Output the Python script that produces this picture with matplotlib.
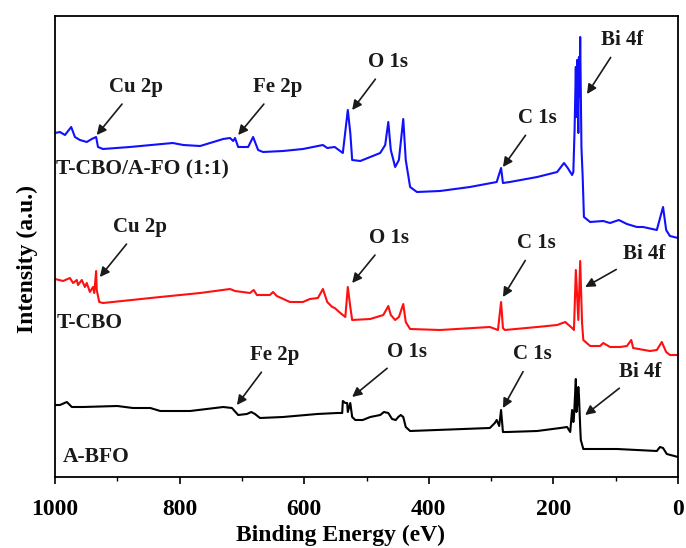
import matplotlib
matplotlib.use("Agg")
import matplotlib.pyplot as plt
from matplotlib.ticker import MultipleLocator

plt.rcParams['font.family'] = ['Liberation Serif', 'DejaVu Serif']
plt.rcParams['font.weight'] = 'bold'

# T-CBO/A-FO (1:1) survey spectrum (binding energy in eV, intensity in a.u.)
be_mix = [1000, 992, 984, 974, 968, 960, 949, 941, 934, 931, 923, 880, 811, 794, 767,
          730, 719, 714, 711, 706, 690, 682, 674, 666, 634, 602, 570, 563, 551, 538,
          530, 526, 523, 510, 494, 478, 470, 465, 461, 454, 448, 441, 437, 430, 419,
          382, 334, 291, 284, 281, 270, 226, 194, 183, 177, 170, 168, 166, 164, 163,
          162, 160, 159, 158, 157, 155, 153, 151, 141, 120, 109, 95, 82, 66, 56, 34,
          24, 19, 13, 0]
int_mix = [344, 345, 342, 350, 340, 337, 335, 338, 340, 330, 328, 330, 334, 332, 331,
           338, 339, 336, 339, 330, 330, 340, 327, 325, 326, 328, 332, 329, 330, 324,
           367, 344, 317, 316, 320, 324, 332, 355, 327, 310, 317, 358, 317, 290, 285,
           286, 290, 295, 309, 294, 295, 300, 305, 314, 309, 302, 305, 347, 410, 360,
           417, 344, 420, 380, 440, 330, 300, 260, 255, 256, 254, 257, 253, 250, 250, 247,
           270, 247, 241, 239]

# T-CBO survey spectrum
be_cbo = [1000, 987, 976, 971, 965, 963, 957, 952, 949, 944, 939, 937, 934, 933, 929,
          923, 831, 767, 719, 711, 687, 681, 676, 655, 650, 644, 623, 602, 591, 578,
          570, 563, 555, 551, 542, 534, 530, 526, 523, 494, 473, 465, 461, 454, 448,
          441, 437, 430, 382, 302, 289, 284, 281, 278, 226, 194, 181, 170, 167, 164,
          160, 157, 154, 152, 141, 125, 120, 109, 93, 82, 75, 72, 45, 34, 26, 19, 13, 0]
int_cbo = [198, 196, 199, 194, 197, 192, 197, 190, 194, 185, 190, 184, 206, 187, 175,
           174, 180, 184, 188, 186, 184, 187, 182, 182, 185, 181, 175, 175, 178, 179,
           188, 175, 170, 169, 164, 160, 190, 170, 157, 158, 162, 171, 162, 157, 160,
           173, 155, 148, 147, 150, 147, 175, 149, 147, 150, 152, 155, 149, 147, 207,
           157, 216, 154, 137, 131, 131, 134, 130, 130, 131, 137, 129, 126, 127, 135, 125, 122, 122]

# A-BFO survey spectrum
be_bfo = [1000, 992, 981, 973, 955, 900, 875, 847, 831, 783, 730, 716, 706, 692, 685,
          679, 671, 634, 579, 547, 539, 538, 534, 531, 530, 526, 523, 518, 506, 494,
          478, 472, 465, 459, 453, 449, 445, 441, 437, 430, 302, 294, 291, 287, 284,
          281, 274, 226, 189, 178, 173, 170, 168, 167, 165, 164, 163, 162, 160, 159,
          157, 156, 152, 98, 34, 29, 24, 18, 0]
int_bfo = [72, 72, 75, 70, 70, 71, 69, 69, 66, 66, 70, 69, 62, 63, 65,
           63, 59, 60, 63, 64, 64, 76, 74, 74, 65, 74, 60, 57, 57, 60,
           62, 65, 64, 58, 57, 60, 62, 60, 50, 46, 49, 54, 57, 51, 67,
           45, 45, 46, 49, 50, 45, 67, 55, 60, 85, 98, 65, 70, 90, 82,
           50, 37, 28, 28, 26, 30, 29, 23, 20]

# sample names: (text, BE, intensity)
sample_names = ['T-CBO/A-FO (1:1)', 'T-CBO', 'A-BFO']
sample_be = [998, 998, 987]
sample_int = [308, 154, 20]

# peak labels: text, text position, arrow head position
peak_names = ['Cu 2p', 'Fe 2p', 'O 1s', 'C 1s', 'Bi 4f',
              'Cu 2p', 'O 1s', 'C 1s', 'Bi 4f',
              'Fe 2p', 'O 1s', 'C 1s', 'Bi 4f']
peak_text_be = [870, 642, 465, 225, 90, 863, 464, 228, 55, 648, 435, 233, 61]
peak_text_int = [390, 390, 415, 359, 437, 250, 239, 234, 223, 122, 125, 123, 105]
peak_head_be = [933, 706, 523, 281, 146, 928, 523, 281, 149, 708, 523, 281, 149]
peak_head_int = [342, 342, 367, 310, 383, 200, 194, 180, 190, 72, 80, 69, 62]

fig = plt.figure(figsize=(6.86, 5.48), dpi=100)
ax = fig.add_axes([55 / 686, 71 / 548, 623 / 686, 461 / 548])

ax.plot(be_mix, int_mix, color='#1010ff', lw=1.5)
ax.plot(be_cbo, int_cbo, color='#ff1010', lw=1.5)
ax.plot(be_bfo, int_bfo, color='black', lw=1.5)

for name, x, y in zip(sample_names, sample_be, sample_int):
    ax.text(x, y, name, fontsize=15.5, fontweight='bold', ha='left', va='center', color='#1a1a1a')

for name, tx, ty, hx, hy in zip(peak_names, peak_text_be, peak_text_int, peak_head_be, peak_head_int):
    ax.annotate(name, xy=(hx, hy), xytext=(tx, ty), fontsize=15, fontweight='bold',
                ha='center', va='center', color='#1a1a1a',
                arrowprops=dict(arrowstyle='-|>', color='#1a1a1a', lw=1.2,
                                mutation_scale=14, shrinkA=4, shrinkB=0))

ax.set_xlim(1000, 0)
ax.set_ylim(0, 461)
ax.set_yticks([])
ax.xaxis.set_major_locator(MultipleLocator(200))
ax.xaxis.set_minor_locator(MultipleLocator(100))
ax.tick_params(axis='x', which='major', direction='out', length=5, width=1.2,
               labelsize=17, pad=11)
ax.tick_params(axis='x', which='minor', direction='out', length=3, width=1.0)
for lab in ax.get_xticklabels():
    lab.set_fontweight('bold')
for sp in ax.spines.values():
    sp.set_linewidth(1.3)

ax.set_xlabel('Binding Energy (eV)', fontsize=17, fontweight='bold', va='center')
ax.xaxis.set_label_coords(0.459, -0.127)
ax.set_ylabel('Intensity (a.u.)', fontsize=17, fontweight='bold', va='center')
ax.yaxis.set_label_coords(-0.045, 0.473)

fig.savefig('out.png', dpi=100)
